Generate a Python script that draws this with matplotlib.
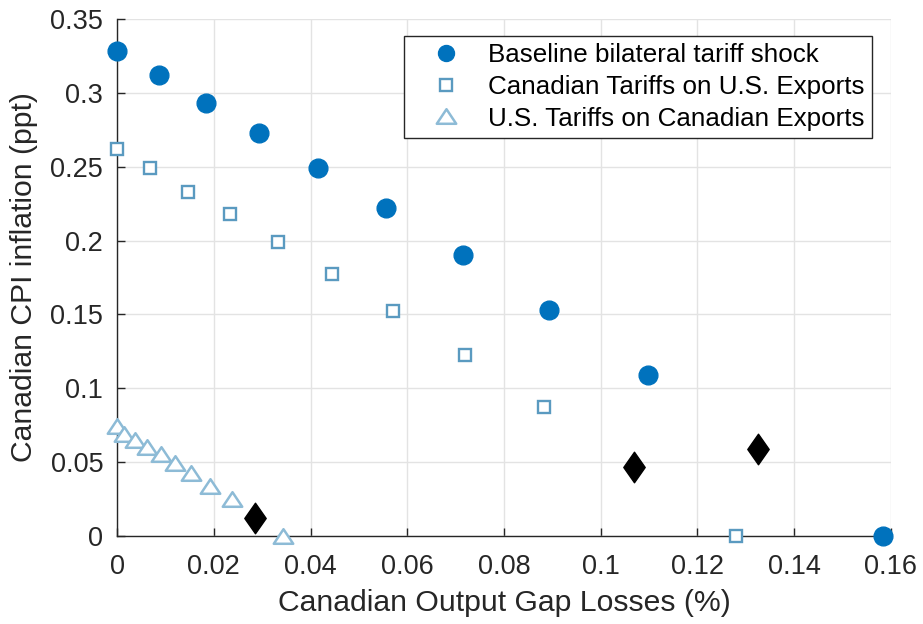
import numpy as np
import matplotlib.pyplot as plt
from matplotlib.path import Path

#dados
base_x = [0.0, 0.0086, 0.0184, 0.0293, 0.0416, 0.0556, 0.0715, 0.0894, 0.1098, 0.1583]
base_y = [0.3287, 0.3121, 0.2935, 0.2729, 0.2491, 0.2219, 0.1901, 0.1529, 0.1092, 0.0]

can_x = [0.0, 0.0069, 0.0147, 0.0233, 0.0332, 0.0444, 0.0571, 0.0719, 0.0882, 0.1280]
can_y = [0.2624, 0.2491, 0.2332, 0.2180, 0.1992, 0.1777, 0.1522, 0.1221, 0.0874, 0.0]

us_x = [0.0, 0.0015, 0.0038, 0.0062, 0.0090, 0.0119, 0.0153, 0.0193, 0.0238, 0.0343]
us_y = [0.0740, 0.0690, 0.0645, 0.0597, 0.0552, 0.0491, 0.0423, 0.0337, 0.0248, 0.0]

dia_x = [0.0286, 0.1068, 0.1326]
dia_y = [0.0117, 0.0468, 0.0586]

xticks = [0, 0.02, 0.04, 0.06, 0.08, 0.1, 0.12, 0.14, 0.16]
xlabels = ['0', '0.02', '0.04', '0.06', '0.08', '0.1', '0.12', '0.14', '0.16']
yticks = [0, 0.05, 0.1, 0.15, 0.2, 0.25, 0.3, 0.35]
ylabels = ['0', '0.05', '0.1', '0.15', '0.2', '0.25', '0.3', '0.35']

plt.rcParams['font.family'] = ['Liberation Sans', 'DejaVu Sans']

#marcadores no estilo matlab
tri = Path([(-1, -0.75), (1, -0.75), (0, 0.75), (-1, -0.75)], closed=True)
diam = Path([(0, 1), (0.7, 0), (0, -1), (-0.7, 0), (0, 1)], closed=True)

fig = plt.figure(figsize=(9.23, 6.24), dpi=100)
ax = fig.add_axes([0.1268, 0.1418, 0.8385, 0.827])

ax.plot(base_x, base_y, 'o', color='#0072BD', ms=13.5, mec='#0072BD',
        label='Baseline bilateral tariff shock', clip_on=False, zorder=3)
ax.plot(can_x, can_y, 's', mfc='white', mec='#5A9AC0', ms=8, mew=1.7,
        label='Canadian Tariffs on U.S. Exports', clip_on=False, zorder=3)
ax.plot(us_x, us_y, marker=tri, ls='none', mfc='white', mec='#8DBBD6', ms=14, mew=1.8,
        label='U.S. Tariffs on Canadian Exports', clip_on=False, zorder=3)
ax.plot(dia_x, dia_y, marker=diam, ls='none', color='black', ms=22, clip_on=False, zorder=3)

ax.set_xlim(0, 0.16)
ax.set_ylim(0, 0.35)
ax.set_xticks(xticks)
ax.set_xticklabels(xlabels)
ax.set_yticks(yticks)
ax.set_yticklabels(ylabels)
ax.grid(True, color='#e3e3e3', lw=1)
ax.set_axisbelow(True)
for s in ['top', 'right']:
    ax.spines[s].set_visible(False)
for s in ['left', 'bottom']:
    ax.spines[s].set_color('#262626')
    ax.spines[s].set_linewidth(1)
ax.tick_params(direction='in', length=6, width=1, colors='#262626', labelsize=19.5)
ax.tick_params(axis='y', pad=10)
ax.tick_params(axis='x', pad=13)

ax.set_xlabel('Canadian Output Gap Losses (%)', fontsize=21.7, color='#262626', labelpad=7)
ax.set_ylabel('Canadian CPI inflation (ppt)', fontsize=21.7, color='#262626', labelpad=9)

leg = ax.legend(loc='upper right', bbox_to_anchor=(0.9755, 0.968), fontsize=18.7, markerscale=1,
                fancybox=False, framealpha=1, edgecolor='#262626', borderpad=0.27,
                labelspacing=0.3, handlelength=2.7, handletextpad=0.27, borderaxespad=0)
leg.get_frame().set_linewidth(1)
leg.legend_handles[0].set_markersize(11.5)

plt.savefig('out.png', dpi=100)
